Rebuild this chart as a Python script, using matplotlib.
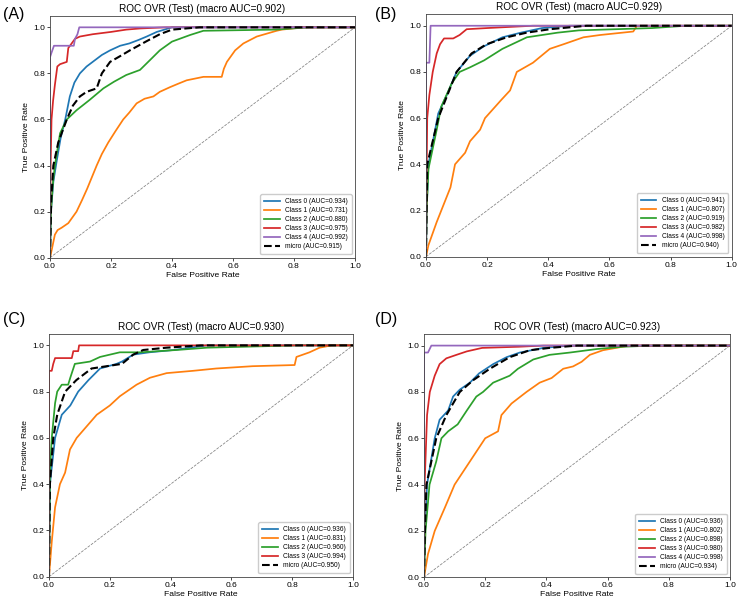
import matplotlib
matplotlib.use("Agg")
import matplotlib.pyplot as plt

plt.rcParams['font.family'] = ['Liberation Sans', 'DejaVu Sans']

COLORS = ['#1f77b4', '#ff7f0e', '#2ca02c', '#d62728', '#9467bd']

# ---- panel A ----
a_macro = 0.902
a_auc = [0.934, 0.731, 0.880, 0.975, 0.992]
a_micro_auc = 0.915
a_fpr0 = [0, 0.003, 0.011, 0.022, 0.035, 0.05, 0.065, 0.08, 0.098, 0.12, 0.14, 0.17, 0.197, 0.23, 0.26, 0.29, 0.317, 0.35, 0.40, 1.0]
a_tpr0 = [0, 0.2, 0.33, 0.42, 0.52, 0.6, 0.7, 0.76, 0.8, 0.83, 0.85, 0.88, 0.9, 0.92, 0.93, 0.945, 0.96, 0.98, 1.0, 1.0]
a_fpr1 = [0, 0.005, 0.016, 0.025, 0.038, 0.06, 0.087, 0.105, 0.122, 0.153, 0.17, 0.191, 0.215, 0.24, 0.26, 0.284, 0.31, 0.339, 0.36, 0.393, 0.42, 0.448, 0.503, 0.563, 0.57, 0.58, 0.607, 0.634, 0.678, 0.743, 0.76, 0.83, 1.0]
a_tpr1 = [0, 0.03, 0.1, 0.12, 0.13, 0.15, 0.2, 0.25, 0.3, 0.4, 0.45, 0.5, 0.55, 0.6, 0.63, 0.67, 0.69, 0.7, 0.72, 0.74, 0.755, 0.77, 0.785, 0.785, 0.82, 0.85, 0.9, 0.93, 0.96, 0.985, 0.99, 1.0, 1.0]
a_fpr2 = [0, 0.003, 0.01, 0.016, 0.033, 0.055, 0.087, 0.13, 0.175, 0.21, 0.25, 0.295, 0.328, 0.36, 0.40, 0.46, 0.503, 0.74, 0.85, 1.0]
a_tpr2 = [0, 0.2, 0.33, 0.4, 0.54, 0.6, 0.64, 0.685, 0.735, 0.764, 0.793, 0.815, 0.858, 0.9, 0.938, 0.967, 0.985, 0.99, 1.0, 1.0]
a_fpr3 = [0, 0.002, 0.005, 0.01, 0.016, 0.024, 0.033, 0.055, 0.06, 0.071, 0.082, 0.098, 0.14, 0.2, 0.25, 0.295, 0.38, 1.0]
a_tpr3 = [0, 0.4, 0.6, 0.68, 0.75, 0.83, 0.84, 0.85, 0.91, 0.93, 0.95, 0.96, 0.97, 0.98, 0.99, 0.995, 1.0, 1.0]
a_fpr4 = [0, 0, 0.005, 0.013, 0.078, 0.082, 0.09, 0.096, 1.0]
a_tpr4 = [0, 0.87, 0.89, 0.92, 0.92, 0.95, 0.97, 1.0, 1.0]
a_fprm = [0, 0.004, 0.011, 0.027, 0.055, 0.075, 0.098, 0.12, 0.153, 0.17, 0.197, 0.23, 0.262, 0.317, 0.36, 0.40, 0.49, 1.0]
a_tprm = [0, 0.25, 0.4, 0.5, 0.6, 0.66, 0.7, 0.72, 0.735, 0.8, 0.85, 0.875, 0.9, 0.94, 0.97, 0.99, 1.0, 1.0]

# ---- panel B ----
b_macro = 0.929
b_auc = [0.941, 0.807, 0.919, 0.982, 0.998]
b_micro_auc = 0.940
b_fpr0 = [0, 0.002, 0.008, 0.03, 0.04, 0.068, 0.10, 0.144, 0.188, 0.25, 0.31, 0.38, 0.47, 1.0]
b_tpr0 = [0, 0.2, 0.4, 0.55, 0.62, 0.7, 0.8, 0.87, 0.91, 0.95, 0.97, 0.99, 1.0, 1.0]
b_fpr1 = [0, 0.008, 0.035, 0.05, 0.08, 0.095, 0.128, 0.144, 0.177, 0.193, 0.247, 0.275, 0.297, 0.35, 0.405, 0.45, 0.515, 0.57, 0.678, 0.69, 1.0]
b_tpr1 = [0, 0.05, 0.15, 0.2, 0.3, 0.4, 0.45, 0.5, 0.55, 0.6, 0.68, 0.72, 0.8, 0.84, 0.9, 0.92, 0.95, 0.96, 0.975, 1.0, 1.0]
b_fpr2 = [0, 0.002, 0.008, 0.035, 0.05, 0.084, 0.11, 0.144, 0.19, 0.25, 0.33, 0.43, 0.50, 0.74, 0.85, 1.0]
b_tpr2 = [0, 0.2, 0.38, 0.55, 0.65, 0.75, 0.8, 0.82, 0.85, 0.9, 0.95, 0.97, 0.98, 0.99, 1.0, 1.0]
b_fpr3 = [0, 0.002, 0.004, 0.011, 0.022, 0.035, 0.046, 0.059, 0.089, 0.11, 0.133, 0.2, 0.35, 1.0]
b_tpr3 = [0, 0.35, 0.6, 0.7, 0.8, 0.88, 0.92, 0.945, 0.945, 0.96, 0.985, 0.99, 1.0, 1.0]
b_fpr4 = [0, 0, 0.011, 0.015, 1.0]
b_tpr4 = [0, 0.84, 0.84, 1.0, 1.0]
b_fprm = [0, 0.002, 0.004, 0.04, 0.07, 0.10, 0.149, 0.198, 0.264, 0.329, 0.405, 0.525, 1.0]
b_tprm = [0, 0.2, 0.4, 0.6, 0.7, 0.8, 0.88, 0.92, 0.95, 0.97, 0.985, 1.0, 1.0]

# ---- panel C ----
c_macro = 0.930
c_auc = [0.936, 0.831, 0.960, 0.994]
c_micro_auc = 0.950
c_fpr0 = [0, 0.003, 0.02, 0.042, 0.07, 0.096, 0.13, 0.168, 0.222, 0.24, 0.277, 0.33, 0.41, 0.52, 1.0]
c_tpr0 = [0, 0.4, 0.6, 0.7, 0.74, 0.8, 0.85, 0.9, 0.92, 0.93, 0.96, 0.97, 0.98, 1.0, 1.0]
c_fpr1 = [0, 0.009, 0.02, 0.036, 0.053, 0.069, 0.091, 0.124, 0.157, 0.2, 0.233, 0.288, 0.332, 0.387, 0.474, 0.55, 0.67, 0.808, 0.814, 0.857, 0.89, 0.93, 1.0]
c_tpr1 = [0, 0.15, 0.3, 0.4, 0.45, 0.55, 0.6, 0.65, 0.7, 0.74, 0.78, 0.83, 0.86, 0.88, 0.89, 0.90, 0.91, 0.915, 0.95, 0.97, 0.99, 1.0, 1.0]
c_fpr2 = [0, 0.003, 0.009, 0.02, 0.027, 0.042, 0.063, 0.07, 0.085, 0.135, 0.168, 0.233, 0.30, 0.42, 0.52, 0.82, 1.0]
c_tpr2 = [0, 0.45, 0.6, 0.75, 0.8, 0.83, 0.83, 0.86, 0.92, 0.93, 0.95, 0.97, 0.97, 0.98, 0.99, 1.0, 1.0]
c_fpr3 = [0, 0, 0.009, 0.014, 0.02, 0.075, 0.08, 0.096, 0.099, 1.0]
c_tpr3 = [0, 0.89, 0.89, 0.92, 0.945, 0.945, 0.975, 0.975, 1.0, 1.0]
c_fprm = [0, 0.003, 0.014, 0.027, 0.053, 0.09, 0.14, 0.19, 0.24, 0.277, 0.31, 0.387, 0.5, 1.0]
c_tprm = [0, 0.4, 0.6, 0.7, 0.8, 0.85, 0.9, 0.91, 0.92, 0.96, 0.98, 0.99, 1.0, 1.0]

# ---- panel D ----
d_macro = 0.923
d_auc = [0.936, 0.802, 0.898, 0.980, 0.998]
d_micro_auc = 0.934
d_fpr0 = [0, 0.003, 0.01, 0.035, 0.051, 0.079, 0.095, 0.117, 0.15, 0.18, 0.226, 0.27, 0.313, 0.39, 0.477, 1.0]
d_tpr0 = [0, 0.2, 0.4, 0.6, 0.68, 0.72, 0.78, 0.81, 0.84, 0.88, 0.92, 0.95, 0.97, 0.99, 1.0, 1.0]
d_fpr1 = [0, 0.013, 0.035, 0.068, 0.10, 0.15, 0.2, 0.242, 0.253, 0.286, 0.335, 0.378, 0.417, 0.455, 0.487, 0.515, 0.542, 0.585, 0.67, 1.0]
d_tpr1 = [0, 0.1, 0.2, 0.3, 0.4, 0.5, 0.6, 0.63, 0.7, 0.75, 0.8, 0.84, 0.86, 0.9, 0.91, 0.93, 0.96, 0.98, 1.0, 1.0]
d_fpr2 = [0, 0.005, 0.018, 0.04, 0.057, 0.079, 0.11, 0.14, 0.171, 0.193, 0.226, 0.28, 0.307, 0.357, 0.41, 0.477, 0.564, 0.65, 0.75, 1.0]
d_tpr2 = [0, 0.2, 0.4, 0.5, 0.6, 0.63, 0.66, 0.72, 0.78, 0.8, 0.84, 0.87, 0.9, 0.94, 0.96, 0.97, 0.985, 0.995, 1.0, 1.0]
d_fpr3 = [0, 0.002, 0.01, 0.019, 0.035, 0.051, 0.073, 0.106, 0.14, 0.19, 0.31, 0.39, 1.0]
d_tpr3 = [0, 0.4, 0.7, 0.8, 0.87, 0.92, 0.945, 0.96, 0.975, 0.99, 0.995, 1.0, 1.0]
d_fpr4 = [0, 0, 0.013, 0.024, 1.0]
d_tpr4 = [0, 0.97, 0.97, 1.0, 1.0]
d_fprm = [0, 0.003, 0.008, 0.04, 0.073, 0.117, 0.16, 0.215, 0.28, 0.346, 0.41, 0.5, 1.0]
d_tprm = [0, 0.2, 0.4, 0.6, 0.7, 0.8, 0.85, 0.9, 0.95, 0.98, 0.99, 1.0, 1.0]

W, H = 740, 604
fig = plt.figure(figsize=(W / 100, H / 100), dpi=100)


def make_axes(left, right, top, bottom):
    return fig.add_axes([left / W, 1 - bottom / H, (right - left) / W, (bottom - top) / H])


def draw_panel(ax, curves, aucs, micro, micro_auc, macro, letter):
    ax.plot([0, 1], [0, 1], linestyle='--', color='gray', lw=0.55)
    for i, (fpr, tpr) in enumerate(curves):
        ax.plot(fpr, tpr, color=COLORS[i], lw=1.25, label='Class {} (AUC={:.3f})'.format(i, aucs[i]))
    ax.plot(micro[0], micro[1], 'k--', lw=1.5, label='micro (AUC={:.3f})'.format(micro_auc))
    ax.set_xlim(0, 1)
    ax.set_ylim(0, 1.05)
    ax.set_xticks([0, 0.2, 0.4, 0.6, 0.8, 1.0])
    ax.set_yticks([0, 0.2, 0.4, 0.6, 0.8, 1.0])
    ax.tick_params(labelsize=6, length=2, width=0.5, pad=1.5)
    for s in ax.spines.values():
        s.set_linewidth(0.6)
        s.set_color('#444444')
    ax.set_xlabel('False Positive Rate', fontsize=6.1, labelpad=1.5)
    ax.set_ylabel('True Positive Rate', fontsize=6.1, labelpad=2)
    ax.set_title('ROC OVR (Test) (macro AUC={:.3f})'.format(macro), fontsize=7.2, pad=3)
    ax.legend(loc='lower right', fontsize=4.8, handlelength=2.3, labelspacing=0.3,
              borderpad=0.6, framealpha=1, edgecolor='#cccccc', fancybox=True)
    ax.text(letter[1] / W, 1 - letter[2] / H, letter[0], transform=fig.transFigure,
            fontsize=11.5, ha='left', va='center')


axA = make_axes(50, 355, 15.8, 257.7)
draw_panel(axA, [(a_fpr0, a_tpr0), (a_fpr1, a_tpr1), (a_fpr2, a_tpr2), (a_fpr3, a_tpr3), (a_fpr4, a_tpr4)],
           a_auc, (a_fprm, a_tprm), a_micro_auc, a_macro, ('(A)', 3.5, 15))

axB = make_axes(426, 731.7, 14.2, 256.7)
draw_panel(axB, [(b_fpr0, b_tpr0), (b_fpr1, b_tpr1), (b_fpr2, b_tpr2), (b_fpr3, b_tpr3), (b_fpr4, b_tpr4)],
           b_auc, (b_fprm, b_tprm), b_micro_auc, b_macro, ('(B)', 374.5, 15))

axC = make_axes(49, 353, 333.8, 576.7)
draw_panel(axC, [(c_fpr0, c_tpr0), (c_fpr1, c_tpr1), (c_fpr2, c_tpr2), (c_fpr3, c_tpr3)],
           c_auc, (c_fprm, c_tprm), c_micro_auc, c_macro, ('(C)', 3.5, 319.5))

axD = make_axes(424, 730, 334, 577.3)
draw_panel(axD, [(d_fpr0, d_tpr0), (d_fpr1, d_tpr1), (d_fpr2, d_tpr2), (d_fpr3, d_tpr3), (d_fpr4, d_tpr4)],
           d_auc, (d_fprm, d_tprm), d_micro_auc, d_macro, ('(D)', 374.5, 319.5))

fig.savefig('out.png', dpi=100)
